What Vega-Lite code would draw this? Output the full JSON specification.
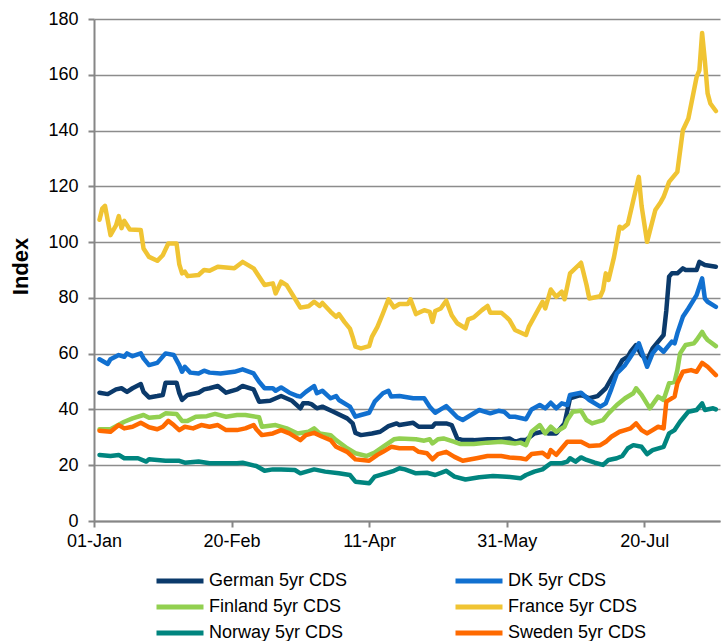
{
"$schema": "https://vega.github.io/schema/vega-lite/v6.json",
"width": 626, "height": 502,
"autosize": {"type": "none"},
"padding": {"left": 94, "top": 19, "right": 2, "bottom": 120},
"background": "white",
"config": {"view": {"stroke": null}, "font": "Liberation Sans"},
"datasets": {
"german": [
{"date":"2011-01-03","value":46},{"date":"2011-01-06","value":45.5},{"date":"2011-01-09","value":47.2},{"date":"2011-01-11","value":47.6},{"date":"2011-01-13","value":46.3},{"date":"2011-01-15","value":47.6},{"date":"2011-01-18","value":49.1},{"date":"2011-01-19","value":46.3},{"date":"2011-01-21","value":44.3},{"date":"2011-01-24","value":44.8},{"date":"2011-01-26","value":45.2},{"date":"2011-01-27","value":49.6},{"date":"2011-01-31","value":49.6},{"date":"2011-02-01","value":45.8},{"date":"2011-02-02","value":43.4},{"date":"2011-02-04","value":45.2},{"date":"2011-02-08","value":46},{"date":"2011-02-10","value":47.2},{"date":"2011-02-12","value":47.6},{"date":"2011-02-15","value":48.4},{"date":"2011-02-18","value":46},{"date":"2011-02-22","value":47.2},{"date":"2011-02-24","value":48.4},{"date":"2011-02-28","value":47.2},{"date":"2011-03-02","value":42.8},{"date":"2011-03-06","value":43.1},{"date":"2011-03-10","value":44.8},{"date":"2011-03-14","value":43.1},{"date":"2011-03-17","value":40.4},{"date":"2011-03-18","value":42.2},{"date":"2011-03-20","value":42.2},{"date":"2011-03-21","value":41.9},{"date":"2011-03-23","value":40.4},{"date":"2011-03-25","value":41},{"date":"2011-03-29","value":39.2},{"date":"2011-04-03","value":36.8},{"date":"2011-04-05","value":35},{"date":"2011-04-06","value":31.6},{"date":"2011-04-08","value":30.8},{"date":"2011-04-12","value":31.4},{"date":"2011-04-15","value":32},{"date":"2011-04-18","value":34},{"date":"2011-04-21","value":35},{"date":"2011-04-22","value":34.4},{"date":"2011-04-27","value":35.2},{"date":"2011-04-29","value":33.8},{"date":"2011-05-04","value":33.8},{"date":"2011-05-05","value":35},{"date":"2011-05-09","value":35},{"date":"2011-05-11","value":34.4},{"date":"2011-05-13","value":29.6},{"date":"2011-05-15","value":29},{"date":"2011-05-19","value":29},{"date":"2011-05-24","value":29.3},{"date":"2011-05-29","value":29.3},{"date":"2011-06-01","value":29.6},{"date":"2011-06-03","value":28.4},{"date":"2011-06-05","value":29},{"date":"2011-06-07","value":29},{"date":"2011-06-10","value":31.4},{"date":"2011-06-13","value":32},{"date":"2011-06-15","value":31.4},{"date":"2011-06-18","value":31.4},{"date":"2011-06-21","value":35},{"date":"2011-06-23","value":44},{"date":"2011-06-27","value":45.2},{"date":"2011-06-30","value":44},{"date":"2011-07-03","value":44.8},{"date":"2011-07-06","value":47.6},{"date":"2011-07-08","value":51.1},{"date":"2011-07-10","value":54.1},{"date":"2011-07-12","value":57.7},{"date":"2011-07-13","value":58.3},{"date":"2011-07-14","value":58.9},{"date":"2011-07-15","value":60.7},{"date":"2011-07-17","value":63.1},{"date":"2011-07-19","value":59.5},{"date":"2011-07-21","value":57.7},{"date":"2011-07-23","value":61.9},{"date":"2011-07-26","value":65.5},{"date":"2011-07-27","value":66.7},{"date":"2011-07-28","value":75.6},{"date":"2011-07-29","value":87.6},{"date":"2011-07-30","value":88.8},{"date":"2011-08-01","value":88.8},{"date":"2011-08-03","value":90.6},{"date":"2011-08-04","value":90},{"date":"2011-08-08","value":90},{"date":"2011-08-09","value":92.9},{"date":"2011-08-11","value":91.8},{"date":"2011-08-15","value":91.2}
],
"dk": [
{"date":"2011-01-03","value":58},{"date":"2011-01-06","value":56.3},{"date":"2011-01-07","value":58},{"date":"2011-01-10","value":59.5},{"date":"2011-01-12","value":58.9},{"date":"2011-01-13","value":60.1},{"date":"2011-01-15","value":59.1},{"date":"2011-01-18","value":60.1},{"date":"2011-01-19","value":58.3},{"date":"2011-01-21","value":55.9},{"date":"2011-01-24","value":56.7},{"date":"2011-01-27","value":60.1},{"date":"2011-01-30","value":59.5},{"date":"2011-02-01","value":55.9},{"date":"2011-02-02","value":53.5},{"date":"2011-02-03","value":55.3},{"date":"2011-02-05","value":53.2},{"date":"2011-02-08","value":52.9},{"date":"2011-02-10","value":53.9},{"date":"2011-02-12","value":53.2},{"date":"2011-02-16","value":52.9},{"date":"2011-02-21","value":53.5},{"date":"2011-02-24","value":54.4},{"date":"2011-02-28","value":52.9},{"date":"2011-03-02","value":49.9},{"date":"2011-03-04","value":47.6},{"date":"2011-03-07","value":47.6},{"date":"2011-03-08","value":46.7},{"date":"2011-03-10","value":47.9},{"date":"2011-03-13","value":46},{"date":"2011-03-16","value":44.8},{"date":"2011-03-17","value":44.6},{"date":"2011-03-19","value":46.3},{"date":"2011-03-22","value":48.4},{"date":"2011-03-23","value":45.8},{"date":"2011-03-25","value":46.7},{"date":"2011-03-28","value":44},{"date":"2011-03-30","value":44.8},{"date":"2011-03-31","value":43.4},{"date":"2011-04-04","value":41},{"date":"2011-04-06","value":37.4},{"date":"2011-04-08","value":38},{"date":"2011-04-11","value":38.8},{"date":"2011-04-13","value":42.8},{"date":"2011-04-16","value":45.8},{"date":"2011-04-18","value":46.7},{"date":"2011-04-19","value":44.6},{"date":"2011-04-22","value":44.8},{"date":"2011-04-27","value":44},{"date":"2011-05-01","value":44},{"date":"2011-05-03","value":41},{"date":"2011-05-05","value":38.8},{"date":"2011-05-07","value":40},{"date":"2011-05-09","value":41.2},{"date":"2011-05-11","value":39.2},{"date":"2011-05-13","value":37.2},{"date":"2011-05-15","value":36.2},{"date":"2011-05-18","value":38},{"date":"2011-05-21","value":39.8},{"date":"2011-05-25","value":38.6},{"date":"2011-05-28","value":39.5},{"date":"2011-05-30","value":39.2},{"date":"2011-06-01","value":37.4},{"date":"2011-06-03","value":37.4},{"date":"2011-06-07","value":36.5},{"date":"2011-06-09","value":40},{"date":"2011-06-12","value":41.6},{"date":"2011-06-14","value":40.4},{"date":"2011-06-16","value":42.4},{"date":"2011-06-18","value":40.4},{"date":"2011-06-20","value":42.2},{"date":"2011-06-22","value":41.6},{"date":"2011-06-23","value":45.2},{"date":"2011-06-27","value":46},{"date":"2011-06-30","value":43.4},{"date":"2011-07-04","value":41},{"date":"2011-07-06","value":42.2},{"date":"2011-07-08","value":47.3},{"date":"2011-07-10","value":52.9},{"date":"2011-07-13","value":55.9},{"date":"2011-07-15","value":58.9},{"date":"2011-07-17","value":61.9},{"date":"2011-07-18","value":63.7},{"date":"2011-07-21","value":55.3},{"date":"2011-07-23","value":60.1},{"date":"2011-07-25","value":62.5},{"date":"2011-07-27","value":60.7},{"date":"2011-07-30","value":64.3},{"date":"2011-07-31","value":63.7},{"date":"2011-08-01","value":67.3},{"date":"2011-08-03","value":73.2},{"date":"2011-08-05","value":76.2},{"date":"2011-08-08","value":81},{"date":"2011-08-10","value":87},{"date":"2011-08-11","value":79.8},{"date":"2011-08-12","value":78.6},{"date":"2011-08-15","value":76.8}
],
"finland": [
{"date":"2011-01-03","value":32.9},{"date":"2011-01-07","value":32.9},{"date":"2011-01-12","value":35.6},{"date":"2011-01-15","value":36.8},{"date":"2011-01-19","value":38},{"date":"2011-01-21","value":37},{"date":"2011-01-25","value":37.4},{"date":"2011-01-27","value":38.6},{"date":"2011-01-31","value":38.4},{"date":"2011-02-02","value":35.9},{"date":"2011-02-04","value":35.9},{"date":"2011-02-07","value":37.4},{"date":"2011-02-11","value":37.6},{"date":"2011-02-14","value":38.4},{"date":"2011-02-18","value":37.4},{"date":"2011-02-22","value":38},{"date":"2011-02-25","value":38},{"date":"2011-03-02","value":37.2},{"date":"2011-03-03","value":33.8},{"date":"2011-03-08","value":34.4},{"date":"2011-03-12","value":33.2},{"date":"2011-03-16","value":31.4},{"date":"2011-03-20","value":32},{"date":"2011-03-22","value":33.2},{"date":"2011-03-24","value":31.4},{"date":"2011-03-28","value":30.8},{"date":"2011-03-30","value":29},{"date":"2011-04-03","value":26.1},{"date":"2011-04-06","value":24.3},{"date":"2011-04-10","value":23.3},{"date":"2011-04-13","value":24.5},{"date":"2011-04-16","value":26.6},{"date":"2011-04-20","value":29.3},{"date":"2011-04-22","value":29.6},{"date":"2011-04-28","value":29.3},{"date":"2011-05-01","value":28.8},{"date":"2011-05-03","value":29.3},{"date":"2011-05-04","value":27.8},{"date":"2011-05-06","value":29.3},{"date":"2011-05-08","value":29.6},{"date":"2011-05-12","value":28.4},{"date":"2011-05-14","value":27.6},{"date":"2011-05-19","value":27.6},{"date":"2011-05-24","value":28.1},{"date":"2011-05-29","value":28.4},{"date":"2011-06-03","value":27.8},{"date":"2011-06-05","value":28.1},{"date":"2011-06-07","value":27.2},{"date":"2011-06-09","value":32},{"date":"2011-06-12","value":34.4},{"date":"2011-06-14","value":31.4},{"date":"2011-06-16","value":33.8},{"date":"2011-06-18","value":32},{"date":"2011-06-21","value":33.8},{"date":"2011-06-22","value":36.2},{"date":"2011-06-24","value":39.2},{"date":"2011-06-27","value":39.5},{"date":"2011-06-29","value":36.2},{"date":"2011-07-01","value":35},{"date":"2011-07-05","value":36.2},{"date":"2011-07-07","value":38.6},{"date":"2011-07-10","value":41.6},{"date":"2011-07-13","value":44},{"date":"2011-07-16","value":45.8},{"date":"2011-07-17","value":47.6},{"date":"2011-07-19","value":45.2},{"date":"2011-07-22","value":40.4},{"date":"2011-07-25","value":44.6},{"date":"2011-07-27","value":43.4},{"date":"2011-07-29","value":49.4},{"date":"2011-07-31","value":49.9},{"date":"2011-08-01","value":54.1},{"date":"2011-08-02","value":60.1},{"date":"2011-08-04","value":63.1},{"date":"2011-08-07","value":63.7},{"date":"2011-08-08","value":64.9},{"date":"2011-08-10","value":67.8},{"date":"2011-08-11","value":66.1},{"date":"2011-08-12","value":64.9},{"date":"2011-08-15","value":62.7}
],
"france": [
{"date":"2011-01-03","value":108},{"date":"2011-01-04","value":112},{"date":"2011-01-05","value":113},{"date":"2011-01-07","value":102.5},{"date":"2011-01-09","value":106},{"date":"2011-01-10","value":109.3},{"date":"2011-01-11","value":105},{"date":"2011-01-12","value":107.6},{"date":"2011-01-14","value":104.5},{"date":"2011-01-18","value":104.3},{"date":"2011-01-19","value":97.7},{"date":"2011-01-21","value":94.7},{"date":"2011-01-24","value":93.3},{"date":"2011-01-26","value":95.3},{"date":"2011-01-28","value":99.5},{"date":"2011-01-31","value":99.5},{"date":"2011-02-01","value":92},{"date":"2011-02-02","value":88.8},{"date":"2011-02-03","value":89.4},{"date":"2011-02-04","value":87.8},{"date":"2011-02-08","value":88.2},{"date":"2011-02-10","value":90},{"date":"2011-02-12","value":89.7},{"date":"2011-02-15","value":91.2},{"date":"2011-02-21","value":90.6},{"date":"2011-02-24","value":92.9},{"date":"2011-02-28","value":90.6},{"date":"2011-03-04","value":84.6},{"date":"2011-03-07","value":85.2},{"date":"2011-03-08","value":81.6},{"date":"2011-03-10","value":85.8},{"date":"2011-03-12","value":84.6},{"date":"2011-03-15","value":79.8},{"date":"2011-03-17","value":76.5},{"date":"2011-03-20","value":77},{"date":"2011-03-22","value":78.6},{"date":"2011-03-24","value":77.1},{"date":"2011-03-25","value":78.2},{"date":"2011-03-28","value":75},{"date":"2011-03-30","value":73.2},{"date":"2011-03-31","value":74.2},{"date":"2011-04-02","value":71.4},{"date":"2011-04-04","value":69},{"date":"2011-04-05","value":66},{"date":"2011-04-06","value":62.5},{"date":"2011-04-08","value":61.9},{"date":"2011-04-11","value":62.7},{"date":"2011-04-12","value":66},{"date":"2011-04-14","value":69.6},{"date":"2011-04-16","value":74.4},{"date":"2011-04-18","value":79.5},{"date":"2011-04-20","value":76.6},{"date":"2011-04-22","value":77.8},{"date":"2011-04-25","value":77.8},{"date":"2011-04-26","value":79.5},{"date":"2011-04-28","value":74.2},{"date":"2011-05-01","value":75.6},{"date":"2011-05-03","value":75},{"date":"2011-05-04","value":71.4},{"date":"2011-05-05","value":75.3},{"date":"2011-05-07","value":76.2},{"date":"2011-05-09","value":79},{"date":"2011-05-11","value":73.8},{"date":"2011-05-13","value":70.9},{"date":"2011-05-16","value":69.1},{"date":"2011-05-17","value":72.3},{"date":"2011-05-19","value":73},{"date":"2011-05-22","value":75.6},{"date":"2011-05-24","value":77.1},{"date":"2011-05-25","value":74.7},{"date":"2011-05-29","value":74.7},{"date":"2011-05-31","value":73},{"date":"2011-06-01","value":72},{"date":"2011-06-03","value":68.5},{"date":"2011-06-07","value":66.7},{"date":"2011-06-08","value":69.6},{"date":"2011-06-10","value":73.2},{"date":"2011-06-13","value":78.6},{"date":"2011-06-14","value":76.2},{"date":"2011-06-16","value":83},{"date":"2011-06-18","value":80.4},{"date":"2011-06-20","value":82.2},{"date":"2011-06-21","value":79.5},{"date":"2011-06-23","value":88.8},{"date":"2011-06-27","value":92.6},{"date":"2011-06-29","value":84.6},{"date":"2011-06-30","value":79.8},{"date":"2011-07-04","value":80.6},{"date":"2011-07-05","value":82.8},{"date":"2011-07-06","value":88.8},{"date":"2011-07-07","value":86.4},{"date":"2011-07-09","value":94.7},{"date":"2011-07-11","value":105.5},{"date":"2011-07-12","value":104.9},{"date":"2011-07-14","value":106.5},{"date":"2011-07-16","value":115},{"date":"2011-07-18","value":123.4},{"date":"2011-07-19","value":113},{"date":"2011-07-21","value":100.1},{"date":"2011-07-24","value":111.5},{"date":"2011-07-26","value":114.4},{"date":"2011-07-27","value":116.2},{"date":"2011-07-29","value":121.6},{"date":"2011-08-01","value":125.2},{"date":"2011-08-03","value":140.1},{"date":"2011-08-05","value":144.3},{"date":"2011-08-08","value":159.2},{"date":"2011-08-09","value":161.6},{"date":"2011-08-10","value":175},{"date":"2011-08-11","value":165},{"date":"2011-08-12","value":153.3},{"date":"2011-08-13","value":149.7},{"date":"2011-08-15","value":147}
],
"norway": [
{"date":"2011-01-03","value":23.7},{"date":"2011-01-07","value":23.3},{"date":"2011-01-10","value":23.7},{"date":"2011-01-12","value":22.5},{"date":"2011-01-17","value":22.5},{"date":"2011-01-20","value":21.3},{"date":"2011-01-21","value":22.1},{"date":"2011-01-27","value":21.6},{"date":"2011-02-01","value":21.6},{"date":"2011-02-03","value":20.9},{"date":"2011-02-08","value":21.3},{"date":"2011-02-12","value":20.7},{"date":"2011-02-17","value":20.7},{"date":"2011-02-22","value":20.7},{"date":"2011-02-24","value":20.9},{"date":"2011-03-01","value":19.7},{"date":"2011-03-04","value":18},{"date":"2011-03-07","value":18.5},{"date":"2011-03-10","value":18.5},{"date":"2011-03-15","value":18.3},{"date":"2011-03-17","value":17.1},{"date":"2011-03-22","value":18.5},{"date":"2011-03-26","value":17.7},{"date":"2011-03-31","value":17.1},{"date":"2011-04-04","value":16.5},{"date":"2011-04-06","value":14.1},{"date":"2011-04-11","value":13.5},{"date":"2011-04-13","value":15.9},{"date":"2011-04-17","value":17.1},{"date":"2011-04-20","value":18},{"date":"2011-04-22","value":18.9},{"date":"2011-04-24","value":18.5},{"date":"2011-04-28","value":17.1},{"date":"2011-05-02","value":17.3},{"date":"2011-05-05","value":16.5},{"date":"2011-05-09","value":18},{"date":"2011-05-12","value":15.9},{"date":"2011-05-16","value":14.9},{"date":"2011-05-21","value":15.7},{"date":"2011-05-26","value":16.1},{"date":"2011-05-31","value":15.9},{"date":"2011-06-05","value":15.3},{"date":"2011-06-07","value":16.5},{"date":"2011-06-10","value":17.7},{"date":"2011-06-13","value":18.5},{"date":"2011-06-16","value":20.7},{"date":"2011-06-20","value":20.7},{"date":"2011-06-22","value":21.3},{"date":"2011-06-23","value":22.5},{"date":"2011-06-25","value":21.3},{"date":"2011-06-27","value":22.8},{"date":"2011-06-29","value":21.9},{"date":"2011-07-02","value":20.9},{"date":"2011-07-05","value":20.1},{"date":"2011-07-07","value":21.9},{"date":"2011-07-10","value":22.5},{"date":"2011-07-12","value":23.3},{"date":"2011-07-14","value":26.1},{"date":"2011-07-16","value":27.2},{"date":"2011-07-19","value":26.6},{"date":"2011-07-21","value":24},{"date":"2011-07-23","value":25.4},{"date":"2011-07-27","value":26.6},{"date":"2011-07-29","value":31.4},{"date":"2011-07-31","value":32.6},{"date":"2011-08-02","value":35.6},{"date":"2011-08-05","value":39.2},{"date":"2011-08-08","value":39.8},{"date":"2011-08-10","value":42.2},{"date":"2011-08-11","value":39.8},{"date":"2011-08-14","value":40.4},{"date":"2011-08-15","value":40}
],
"sweden": [
{"date":"2011-01-03","value":32.4},{"date":"2011-01-07","value":32},{"date":"2011-01-10","value":34.4},{"date":"2011-01-12","value":33.2},{"date":"2011-01-15","value":33.8},{"date":"2011-01-18","value":35.2},{"date":"2011-01-21","value":33.6},{"date":"2011-01-24","value":32.9},{"date":"2011-01-26","value":33.8},{"date":"2011-01-28","value":35.9},{"date":"2011-01-30","value":34.4},{"date":"2011-02-01","value":32.6},{"date":"2011-02-03","value":33.8},{"date":"2011-02-06","value":33.2},{"date":"2011-02-09","value":34.4},{"date":"2011-02-12","value":33.8},{"date":"2011-02-15","value":34.4},{"date":"2011-02-18","value":32.6},{"date":"2011-02-22","value":32.6},{"date":"2011-02-25","value":33.2},{"date":"2011-02-28","value":34.4},{"date":"2011-03-01","value":32.9},{"date":"2011-03-03","value":30.8},{"date":"2011-03-07","value":31.4},{"date":"2011-03-10","value":32.6},{"date":"2011-03-13","value":31.4},{"date":"2011-03-17","value":29},{"date":"2011-03-19","value":30.8},{"date":"2011-03-22","value":31.6},{"date":"2011-03-25","value":30.2},{"date":"2011-03-28","value":29},{"date":"2011-03-30","value":26.6},{"date":"2011-04-03","value":24.8},{"date":"2011-04-06","value":22.1},{"date":"2011-04-11","value":21.6},{"date":"2011-04-14","value":23.7},{"date":"2011-04-16","value":24.8},{"date":"2011-04-19","value":26.6},{"date":"2011-04-22","value":26.1},{"date":"2011-04-27","value":26.1},{"date":"2011-04-29","value":24.8},{"date":"2011-05-02","value":24.3},{"date":"2011-05-04","value":22.1},{"date":"2011-05-06","value":24},{"date":"2011-05-09","value":24.8},{"date":"2011-05-12","value":23},{"date":"2011-05-15","value":21.6},{"date":"2011-05-20","value":22.5},{"date":"2011-05-24","value":23.3},{"date":"2011-05-29","value":23.3},{"date":"2011-06-01","value":22.8},{"date":"2011-06-05","value":22.5},{"date":"2011-06-07","value":22.1},{"date":"2011-06-09","value":24},{"date":"2011-06-13","value":24.5},{"date":"2011-06-15","value":23},{"date":"2011-06-16","value":25.4},{"date":"2011-06-18","value":23.7},{"date":"2011-06-20","value":26.1},{"date":"2011-06-22","value":28.4},{"date":"2011-06-27","value":28.4},{"date":"2011-06-30","value":26.9},{"date":"2011-07-04","value":27.2},{"date":"2011-07-06","value":28.4},{"date":"2011-07-08","value":30.2},{"date":"2011-07-11","value":32},{"date":"2011-07-13","value":32.6},{"date":"2011-07-15","value":33.2},{"date":"2011-07-17","value":35},{"date":"2011-07-19","value":32.6},{"date":"2011-07-21","value":31.4},{"date":"2011-07-23","value":32.6},{"date":"2011-07-25","value":33.8},{"date":"2011-07-27","value":33.2},{"date":"2011-07-28","value":42.8},{"date":"2011-07-31","value":44.6},{"date":"2011-08-01","value":49.4},{"date":"2011-08-03","value":53.5},{"date":"2011-08-06","value":54.1},{"date":"2011-08-08","value":53.5},{"date":"2011-08-10","value":56.7},{"date":"2011-08-12","value":55.3},{"date":"2011-08-15","value":52.3}
]
},
"encoding": {
  "x": {"field": "date", "type": "temporal",
    "scale": {"type": "utc", "domain": [1293840000000, 1313496000000]},
    "axis": {"values": [1293840000000, 1298160000000, 1302480000000, 1306800000000, 1311120000000],
      "labelExpr": "utcFormat(datum.value, '%d-%b')", "title": null, "grid": false, "labelFlush": false,
      "domainColor": "#868686", "domainWidth": 2, "tickColor": "#868686", "tickWidth": 2, "tickSize": 6,
      "labelFontSize": 18, "labelColor": "black", "labelPadding": 5, "labelFont": "Liberation Sans", "labelOverlap": false}},
  "y": {"field": "value", "type": "quantitative",
    "scale": {"domain": [0, 180], "nice": false},
    "axis": {"values": [0, 20, 40, 60, 80, 100, 120, 140, 160, 180],
      "title": "Index", "titleFontSize": 22, "titleFontWeight": "bold", "titleColor": "black", "titleFont": "Liberation Sans",
      "titleAngle": -90, "titleX": -74, "titleY": 247, "titleBaseline": "middle", "titleAlign": "center",
      "grid": true, "gridColor": "#8C8C8C", "gridWidth": 1.5,
      "domainColor": "#868686", "domainWidth": 2, "tickColor": "#868686", "tickWidth": 2, "tickSize": 6,
      "labelFontSize": 18, "labelColor": "black", "labelPadding": 10, "labelFont": "Liberation Sans"}},
  "color": {
    "scale": {"domain": ["German 5yr CDS", "Finland 5yr CDS", "Norway 5yr CDS", "DK 5yr CDS", "France 5yr CDS", "Sweden 5yr CDS"],
      "range": ["#0B3A6B", "#92D050", "#00857F", "#1170D0", "#F0C433", "#FF6A00"]},
    "legend": {"orient": "none", "legendX": 60, "legendY": 549, "columns": 2, "title": null,
      "symbolType": "stroke", "symbolSize": 2209, "symbolStrokeWidth": 5, "clipHeight": 26,
      "labelFontSize": 18, "labelColor": "black", "labelFont": "Liberation Sans", "labelOffset": 3,
      "columnPadding": 105, "rowPadding": 0, "labelLimit": 300}}
},
"layer": [
  {"data": {"name": "german"}, "mark": {"type": "line", "strokeWidth": 4.5, "strokeJoin": "round", "strokeCap": "round"}, "encoding": {"color": {"datum": "German 5yr CDS"}}},
  {"data": {"name": "dk"}, "mark": {"type": "line", "strokeWidth": 4.5, "strokeJoin": "round", "strokeCap": "round"}, "encoding": {"color": {"datum": "DK 5yr CDS"}}},
  {"data": {"name": "finland"}, "mark": {"type": "line", "strokeWidth": 4.5, "strokeJoin": "round", "strokeCap": "round"}, "encoding": {"color": {"datum": "Finland 5yr CDS"}}},
  {"data": {"name": "france"}, "mark": {"type": "line", "strokeWidth": 4.5, "strokeJoin": "round", "strokeCap": "round"}, "encoding": {"color": {"datum": "France 5yr CDS"}}},
  {"data": {"name": "norway"}, "mark": {"type": "line", "strokeWidth": 4.5, "strokeJoin": "round", "strokeCap": "round"}, "encoding": {"color": {"datum": "Norway 5yr CDS"}}},
  {"data": {"name": "sweden"}, "mark": {"type": "line", "strokeWidth": 4.5, "strokeJoin": "round", "strokeCap": "round"}, "encoding": {"color": {"datum": "Sweden 5yr CDS"}}}
]
}
